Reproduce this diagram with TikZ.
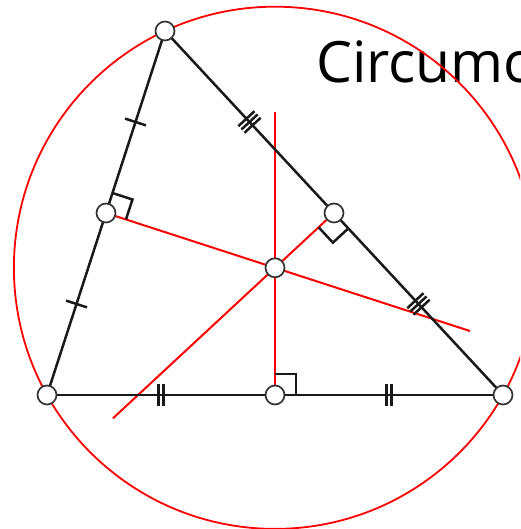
\documentclass[tikz,border=0pt]{standalone}
\usepackage{fontspec}
\setsansfont{Open Sans}
\usetikzlibrary{calc, angles, decorations.markings}
\tikzset{
  side/.style={draw=black!90, line width=2.5pt},
  bisect/.style={draw=red, line width=2pt},
  circum/.style={draw=red, line width=1.8pt},
  vtx/.style={circle, draw=black!80, fill=white, line width=1.7pt, minimum size=19pt, inner sep=0pt},
  sqmark/.style={draw=black!90, line width=2.5pt, angle radius=21pt},
  ticks/.style={postaction={decorate, decoration={markings,
    mark=at position 0.25 with {\foreach \d in {#1} \draw[line width=2.5pt] (\d,-11pt) -- (\d,11pt);},
    mark=at position 0.75 with {\foreach \d in {#1} \draw[line width=2.5pt] (\d,-11pt) -- (\d,11pt);}}}},
  title/.style={font=\sffamily\fontsize{57}{60}\selectfont, anchor=base west, inner sep=0pt}
}
\begin{document}
\begin{tikzpicture}[x=1pt, y=1pt]
\useasboundingbox (0,0) rectangle (520,529);
\clip (0,0) rectangle (520,529);
% triangle and centre
\coordinate (A) at (165,498);
\coordinate (B) at (47,134);
\coordinate (C) at (503,134);
\coordinate (O) at (275,261.2);
\coordinate (Mab) at ($(A)!0.5!(B)$);
\coordinate (Mac) at ($(A)!0.5!(C)$);
\coordinate (Mbc) at ($(B)!0.5!(C)$);
\coordinate (Eab) at ($(Mab)!2.154!(O)$);
\coordinate (Eac) at ($(Mac)!3.746!(O)$);
\coordinate (Ebc) at ($(Mbc)!2.225!(O)$);
\node[title] (ttl) at (316,446) {Circumcenter};
% perpendicular bisectors
\draw[bisect] (Mab) -- (Eab);
\draw[bisect] (Mac) -- (Eac);
\draw[bisect] (Mbc) -- (Ebc);
\draw[circum] (O) circle[radius=261.1];
% sides with tick marks
\draw[side, ticks={0pt}] (A) -- (B);
\draw[side, ticks={-4.5pt,0pt,4.5pt}] (A) -- (C);
\draw[side, ticks={-2.5pt,2.5pt}] (B) -- (C);
\pic[sqmark] {right angle=A--Mab--O};
\pic[sqmark] {right angle=O--Mac--C};
\pic[sqmark] {right angle=C--Mbc--O};
% points
\foreach \p in {A,B,C,Mab,Mac,Mbc,O}
  \node[vtx] (v\p) at (\p) {};
\end{tikzpicture}
\end{document}
